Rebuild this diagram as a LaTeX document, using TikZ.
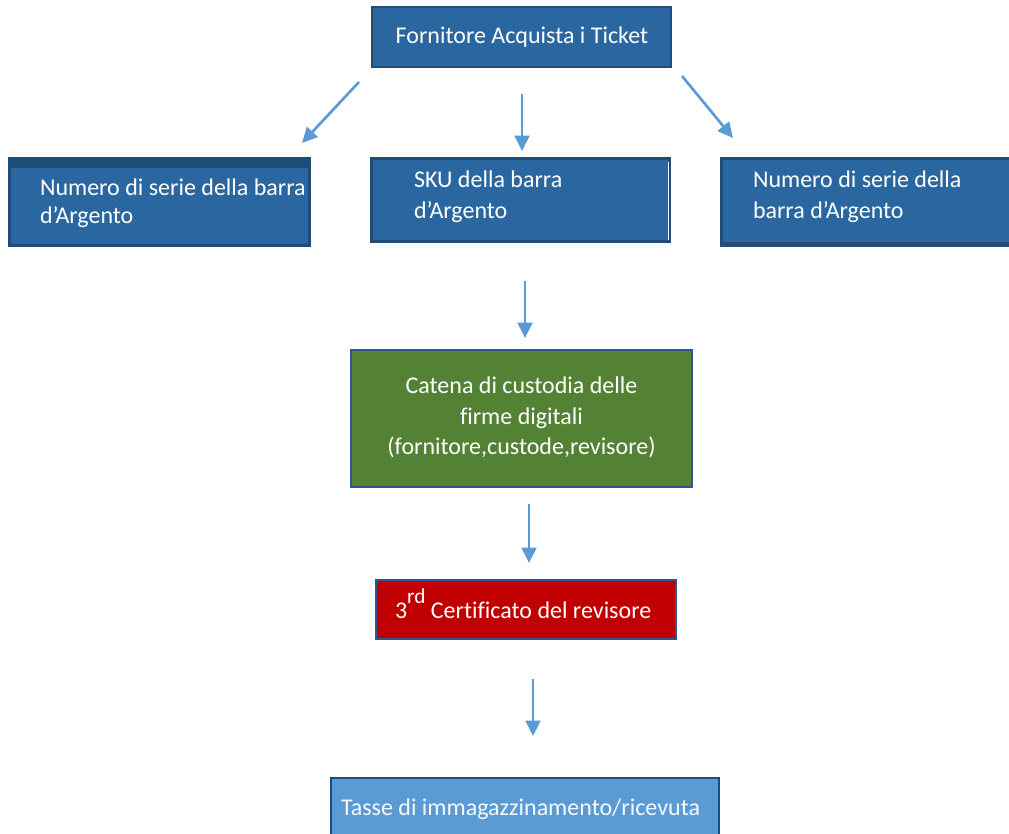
\documentclass[tikz,border=0pt]{standalone}
\usepackage{fontspec}
\setmainfont{Carlito}[Ligatures={NoCommon}]
\usetikzlibrary{arrows.meta,calc}
\definecolor{boxblue}{HTML}{2A67A0}
\definecolor{darkblue}{HTML}{204D78}
\definecolor{lightblue}{HTML}{5B9BD5}
\definecolor{arrowblue}{HTML}{5B9BD5}
\definecolor{boxgreen}{HTML}{548235}
\definecolor{boxred}{HTML}{C00000}
\definecolor{edgeblue}{HTML}{2F5597}
\newcommand{\supr}[1]{\raisebox{0.6em}{\fontsize{16pt}{16pt}\selectfont #1}}
\tikzset{
  box/.style={rectangle, inner sep=0pt, outer sep=0pt},
  txt/.style={text=white, font=\fontsize{18pt}{23pt}\selectfont, inner sep=0pt, outer sep=0pt},
  flow/.style={draw=arrowblue, line width=2pt, -{Triangle[length=11.5pt,width=11pt]}}
}
\begin{document}
\begin{tikzpicture}[x=0.75pt,y=-0.75pt]
\useasboundingbox (0,0) rectangle (1009,833);
\clip (0,0) rectangle (1009,833);
% top box
\node[box, fill=boxblue, draw=darkblue, line width=2pt, minimum width=224.25pt, minimum height=45pt] (top) at (521.5,37) {};
\node[txt] (toptxt) at (522,37) {Fornitore Acquista i Ticket};
% left box
\node[box, fill=darkblue, minimum width=227.25pt, minimum height=67.5pt] (left) at (159.5,202) {};
\fill[boxblue] (11,168) rectangle (308,244);
\node[txt, anchor=west, align=left, font=\fontsize{18pt}{21pt}\selectfont] (lefttxt) at (40,203) {Numero di serie della barra\\d’Argento};
% middle box
\node[box, fill=darkblue, minimum width=225.75pt, minimum height=64.5pt] (mid) at (520.5,200) {};
\fill[boxblue] (373,160) rectangle (668,240);
\draw[white, line width=1pt] (668.5,162) -- (668.5,240);
\node[txt, anchor=west, align=left] (midtxt) at (414,197) {SKU della barra\\d’Argento};
% right box
\node[box, fill=darkblue, minimum width=221.25pt, minimum height=67.5pt] (right) at (867.5,202) {};
\fill[boxblue] (723,160) rectangle (1015,242);
\node[txt, anchor=west, align=left] (righttxt) at (753,197) {Numero di serie della\\barra d’Argento};
% green box
\node[box, fill=boxgreen, draw=edgeblue, line width=2pt, minimum width=255.75pt, minimum height=102.75pt] (green) at (521.5,418.5) {};
\node[txt, align=center] (greentxt) at (521.5,417.5) {Catena di custodia delle\\firme digitali\\(fornitore,custode,revisore)};
% red box
\node[box, fill=boxred, draw=edgeblue, line width=2pt, minimum width=225pt, minimum height=44.25pt] (red) at (526,609.5) {};
\node[txt, anchor=base west] (redtxt) at (395,618) {3\supr{rd} Certificato del revisore};
% bottom box
\node[box, fill=lightblue, draw=darkblue, line width=2pt, minimum width=291pt, minimum height=60pt] (bottom) at (525,818) {};
\node[txt, anchor=west, text=white!95!lightblue] (bottomtxt) at (341,809) {Tasse di immagazzinamento/ricevuta};
% arrows
\coordinate (a1s) at (359,82); \coordinate (a1e) at (302,143);
\coordinate (a2s) at (522,94); \coordinate (a2e) at (522,151);
\coordinate (a3s) at (682,76); \coordinate (a3e) at (733,138);
\coordinate (a4s) at (525,281); \coordinate (a4e) at (525,338);
\coordinate (a5s) at (529,504); \coordinate (a5e) at (529,563);
\coordinate (a6s) at (533,679); \coordinate (a6e) at (533,736);
\draw[flow] (a1s) -- (a1e);
\draw[flow] (a2s) -- (a2e);
\draw[flow] (a3s) -- (a3e);
\draw[flow] (a4s) -- (a4e);
\draw[flow] (a5s) -- (a5e);
\draw[flow] (a6s) -- (a6e);
\end{tikzpicture}
\end{document}
